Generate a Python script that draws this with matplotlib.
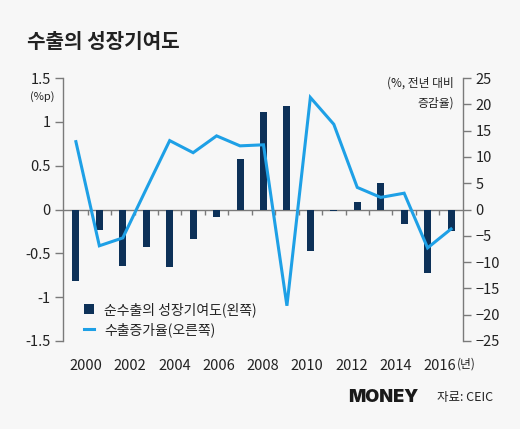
import matplotlib
matplotlib.use("Agg")
import matplotlib.pyplot as plt
import numpy as np
from matplotlib.lines import Line2D
from matplotlib.patches import Patch

plt.rcParams['font.family'] = ['Noto Sans CJK KR', 'DejaVu Sans']

years = list(range(2000, 2017))
net_export_contrib = [-0.82, -0.23, -0.64, -0.43, -0.66, -0.34, -0.08, 0.58, 1.11, 1.18,
                      -0.47, -0.02, 0.08, 0.30, -0.16, -0.72, -0.24]
export_growth = [12.9, -6.9, -5.4, 3.9, 13.1, 10.8, 14.0, 12.1, 12.3, -18.3,
                 21.3, 16.2, 4.2, 2.3, 3.1, -7.3, -3.7]
xtick_labels = ['2000', '2002', '2004', '2006', '2008', '2010', '2012', '2014', '2016']
left_ticks = [1.5, 1, 0.5, 0, -0.5, -1, -1.5]
left_tick_labels = ['1.5', '1', '0.5', '0', '-0.5', '-1', '-1.5']
right_ticks = [25, 20, 15, 10, 5, 0, -5, -10, -15, -20, -25]

bg = '#f7f7f7'
bar_c = '#0d3158'
line_c = '#1ea0e6'
axis_c = '#7a7a7a'
text_c = '#222222'

W, H = 520, 429
fig = plt.figure(figsize=(W / 100, H / 100), dpi=100, facecolor=bg)
ax = fig.add_axes([63 / W, 1 - 341 / H, (463 - 63) / W, (341 - 78) / H])
ax.set_facecolor(bg)
ax.set_xlim(1999.45, 2016.51)
ax.set_ylim(-1.5, 1.5)

x = np.array(years, dtype=float)
ax.bar(x, net_export_contrib, width=0.3, color=bar_c, zorder=3)
ax.axhline(0, color=axis_c, lw=1.0, zorder=2)
ax.vlines(x[:-1] + 0.5, -0.06, 0, color=axis_c, lw=1.0, zorder=2)

for s in ['top', 'bottom', 'right']:
    ax.spines[s].set_visible(False)
ax.spines['left'].set_color(axis_c)
ax.spines['left'].set_linewidth(1.0)
ax.set_yticks(left_ticks)
ax.set_yticklabels(left_tick_labels)
ax.tick_params(axis='y', colors=axis_c, labelcolor=text_c, length=6, width=1.0, pad=3, labelsize=10.5)
ax.set_xticks(np.linspace(2000.43, 2015.53, len(xtick_labels)))
ax.set_xticklabels(xtick_labels)
ax.tick_params(axis='x', length=0, pad=13, labelsize=10.5, labelcolor=text_c)

ax2 = ax.twinx()
ax2.set_ylim(-25, 25)
ax2.plot(x, export_growth, color=line_c, lw=2.2, zorder=4, solid_joinstyle='miter')
for s in ['top', 'bottom', 'left']:
    ax2.spines[s].set_visible(False)
ax2.spines['right'].set_color(axis_c)
ax2.spines['right'].set_linewidth(1.0)
ax2.set_yticks(right_ticks)
ax2.tick_params(axis='y', colors=axis_c, labelcolor=text_c, length=6, width=1.0, pad=3, labelsize=10.5)

# Titles and annotations
fig.text(27 / W, 1 - 42 / H, '수출의 성장기여도', fontsize=14.5, fontweight='bold',
         color=text_c, va='center', ha='left')
fig.text(42 / W, 1 - 97 / H, '(%p)', fontsize=8, color=text_c, va='center', ha='center')
fig.text(454 / W, 1 - 83 / H, '(%, 전년 대비', fontsize=8.5, color=text_c, va='center', ha='right')
fig.text(454 / W, 1 - 103 / H, '증감율)', fontsize=8.5, color=text_c, va='center', ha='right')
fig.text(457 / W, 1 - 364 / H, '(년)', fontsize=8.5, color=text_c, va='center', ha='left')

handles = [Patch(facecolor=bar_c, edgecolor='none'),
           Line2D([0], [0], color=line_c, lw=2.2)]
leg = ax.legend(handles, ['순수출의 성장기여도(왼쪽)', '수출증가율(오른쪽)'],
                loc='upper left', bbox_to_anchor=(84 / W, 1 - 302 / H),
                bbox_transform=fig.transFigure, frameon=False, fontsize=10,
                handlelength=0.75, handleheight=0.75, handletextpad=0.7, labelspacing=0.4,
                borderaxespad=0, borderpad=0)
for t in leg.get_texts():
    t.set_color(text_c)

fig.text(418 / W, 1 - 397 / H, 'MONEY', fontsize=13, fontweight='black', color='#1a1a1a',
         va='center', ha='right', family=['Inter', 'DejaVu Sans'])
fig.text(437 / W, 1 - 397 / H, '자료: CEIC', fontsize=9, color=text_c, va='center', ha='left')

fig.savefig('out.png', dpi=100, facecolor=bg)
